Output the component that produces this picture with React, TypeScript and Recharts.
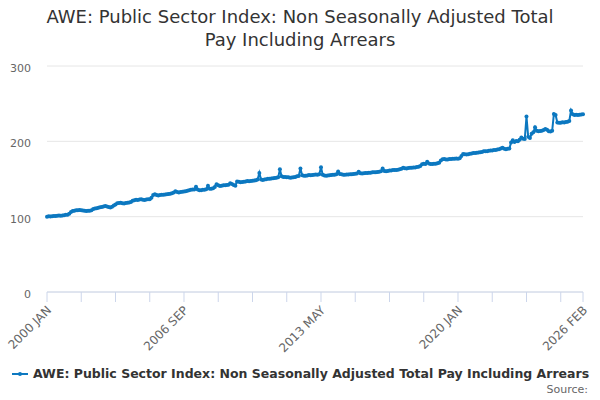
import React from "react";
import { LineChart, Line, XAxis, YAxis, CartesianGrid } from "recharts";

const TITLE_LINE_1 = "AWE: Public Sector Index: Non Seasonally Adjusted Total";
const TITLE_LINE_2 = "Pay Including Arrears";
const SERIES_NAME = "AWE: Public Sector Index: Non Seasonally Adjusted Total Pay Including Arrears";
const SOURCE_TEXT = "Source:";

const MONTHS = ["JAN", "FEB", "MAR", "APR", "MAY", "JUN", "JUL", "AUG", "SEP", "OCT", "NOV", "DEC"];
const START_YEAR = 2000;

// Monthly values, one array per year
const v2000 = [99.8, 100.4, 100.1, 100.6, 101.0, 100.8, 101.2, 101.5, 101.2, 101.7, 101.9, 102.4];
const v2001 = [102.6, 104.0, 106.2, 107.4, 107.8, 108.4, 108.6, 109.0, 108.4, 108.1, 107.8, 107.4];
const v2002 = [107.7, 107.9, 108.6, 110.2, 110.8, 111.3, 111.9, 112.6, 112.9, 113.6, 114.2, 113.4];
const v2003 = [112.8, 112.2, 113.0, 114.8, 116.2, 117.8, 118.1, 118.6, 117.7, 117.4, 118.0, 118.6];
const v2004 = [118.8, 119.6, 121.2, 121.8, 122.4, 122.2, 122.8, 123.2, 122.4, 122.2, 122.7, 123.0];
const v2005 = [123.2, 125.2, 128.8, 129.6, 128.8, 128.2, 128.6, 129.2, 129.0, 129.4, 129.8, 130.0];
const v2006 = [130.4, 131.2, 132.0, 133.6, 132.6, 132.2, 132.6, 133.2, 133.4, 133.8, 134.4, 135.0];
const v2007 = [135.6, 136.2, 136.0, 139.8, 136.2, 135.2, 135.0, 135.6, 135.8, 136.4, 141.2, 137.0];
const v2008 = [137.2, 137.8, 139.5, 143.0, 141.6, 140.8, 141.2, 141.6, 141.8, 142.2, 142.4, 144.2];
const v2009 = [143.4, 142.0, 141.2, 146.8, 146.2, 145.6, 146.0, 146.4, 146.6, 147.2, 147.0, 147.5];
const v2010 = [147.6, 148.0, 148.2, 149.2, 158.0, 149.2, 148.8, 149.4, 149.8, 150.4, 150.4, 150.8];
const v2011 = [151.0, 151.4, 151.5, 152.2, 162.8, 153.5, 152.8, 152.6, 152.2, 152.4, 151.8, 152.0];
const v2012 = [152.2, 152.8, 153.6, 154.0, 164.0, 155.0, 154.4, 154.4, 154.8, 155.2, 155.0, 155.4];
const v2013 = [155.6, 156.0, 155.8, 156.4, 165.5, 155.6, 154.6, 154.2, 154.8, 155.0, 155.4, 155.5];
const v2014 = [155.6, 156.2, 159.8, 156.8, 156.2, 155.6, 155.6, 156.0, 156.0, 156.4, 156.4, 156.8];
const v2015 = [157.0, 157.4, 159.5, 157.6, 157.2, 157.5, 158.0, 158.0, 158.4, 158.4, 158.8, 158.8];
const v2016 = [159.0, 159.4, 159.6, 160.2, 163.8, 160.6, 160.2, 160.6, 161.2, 161.4, 161.8, 161.8];
const v2017 = [162.0, 162.4, 162.8, 163.6, 164.8, 164.4, 164.0, 164.5, 165.0, 165.0, 165.4, 165.4];
const v2018 = [165.8, 166.2, 167.2, 169.5, 170.2, 170.0, 172.8, 170.6, 170.0, 169.8, 170.2, 170.4];
const v2019 = [170.8, 171.6, 174.5, 176.2, 176.4, 176.0, 176.0, 176.4, 176.6, 177.0, 177.0, 177.2];
const v2020 = [177.0, 177.6, 180.5, 183.2, 183.0, 182.4, 183.0, 183.6, 183.8, 184.4, 184.6, 185.0];
const v2021 = [185.2, 185.6, 185.8, 186.8, 187.0, 187.0, 187.4, 187.8, 187.8, 188.4, 188.6, 189.0];
const v2022 = [189.6, 190.4, 191.5, 190.2, 189.6, 190.0, 190.4, 198.6, 201.5, 199.0, 200.5, 200.0];
const v2023 = [202.0, 205.0, 203.5, 203.0, 233.0, 206.0, 204.5, 210.0, 212.0, 218.6, 214.0, 213.5];
const v2024 = [213.8, 214.2, 215.0, 216.5, 215.5, 213.5, 213.0, 214.0, 236.4, 235.0, 225.0, 224.6];
const v2025 = [224.8, 225.2, 225.0, 225.6, 226.0, 227.0, 240.8, 236.0, 235.0, 235.4, 235.0, 235.4];
const v2026 = [235.6, 235.8];

const values = [
  ...v2000, ...v2001, ...v2002, ...v2003, ...v2004, ...v2005, ...v2006, ...v2007,
  ...v2008, ...v2009, ...v2010, ...v2011, ...v2012, ...v2013, ...v2014, ...v2015,
  ...v2016, ...v2017, ...v2018, ...v2019, ...v2020, ...v2021, ...v2022, ...v2023,
  ...v2024, ...v2025, ...v2026,
];

const categories = values.map(
  (_, i) => `${START_YEAR + Math.floor(i / 12)} ${MONTHS[i % 12]}`
);

const LABELLED_TICKS = ["2000 JAN", "2006 SEP", "2013 MAY", "2020 JAN", "2026 FEB"];
const Y_TICKS = [0, 100, 200, 300];

const data = values.map((v, i) => ({ idx: i, date: categories[i], value: v }));

const lastIdx = values.length - 1;
const xTicks: number[] = [];
for (let i = 0; i <= lastIdx; i += 20) xTicks.push(i);
if (xTicks[xTicks.length - 1] !== lastIdx) xTicks.push(lastIdx);

const COLOR = "#0c78c0";
const FONT = "'DejaVu Sans', sans-serif";

const XTick = (props: any) => {
  const { x, y, payload } = props;
  const label = categories[payload.value];
  if (!LABELLED_TICKS.includes(label)) return null;
  const ax = x + 5;
  const ay = y + 7;
  return (
    <text
      x={ax}
      y={ay}
      transform={`rotate(-45 ${ax} ${ay})`}
      textAnchor="end"
      fontSize={12}
      fill="#666666"
      fontFamily={FONT}
    >
      {label}
    </text>
  );
};

export default function App() {
  return (
    <div
      style={{
        position: "absolute",
        left: 0,
        top: 0,
        width: 600,
        height: 400,
        background: "#ffffff",
        fontFamily: FONT,
      }}
    >
      <div
        style={{
          position: "absolute",
          top: 5,
          left: 0,
          width: 600,
          textAlign: "center",
          fontSize: 18,
          lineHeight: "23px",
          color: "#333333",
        }}
      >
        {TITLE_LINE_1}
        <br />
        {TITLE_LINE_2}
      </div>
      <LineChart
        width={600}
        height={400}
        data={data}
        margin={{ top: 66, right: 17, bottom: 48, left: 0 }}
      >
        <CartesianGrid vertical={false} stroke="#e6e6e6" />
        <XAxis
          dataKey="idx"
          type="number"
          domain={[0, lastIdx]}
          ticks={xTicks}
          interval={0}
          height={60}
          stroke="#ccd6eb"
          tickLine={{ stroke: "#ccd6eb" }}
          tickSize={10}
          tick={<XTick />}
        />
        <YAxis
          width={47}
          domain={[0, 300]}
          ticks={Y_TICKS}
          axisLine={false}
          tickLine={false}
          tickMargin={10}
          tick={{ fontSize: 11, fill: "#666666", fontFamily: FONT, dy: 2 }}
        />
        <Line
          type="linear"
          dataKey="value"
          name={SERIES_NAME}
          stroke={COLOR}
          strokeWidth={2}
          dot={{ r: 2, fill: COLOR, stroke: "none" }}
          isAnimationActive={false}
        />
      </LineChart>
      <div
        style={{
          position: "absolute",
          top: 366,
          left: 12,
          display: "flex",
          alignItems: "center",
          fontSize: 12.5,
          fontWeight: "bold",
          color: "#333333",
          whiteSpace: "nowrap",
        }}
      >
        <svg width={16} height={12} style={{ marginRight: 5 }}>
          <line x1={0} y1={6} x2={16} y2={6} stroke={COLOR} strokeWidth={2} />
          <circle cx={8} cy={6} r={2} fill={COLOR} />
        </svg>
        {SERIES_NAME}
      </div>
      <div
        style={{
          position: "absolute",
          top: 383,
          right: 12,
          fontSize: 11,
          color: "#666666",
        }}
      >
        {SOURCE_TEXT}
      </div>
    </div>
  );
}
